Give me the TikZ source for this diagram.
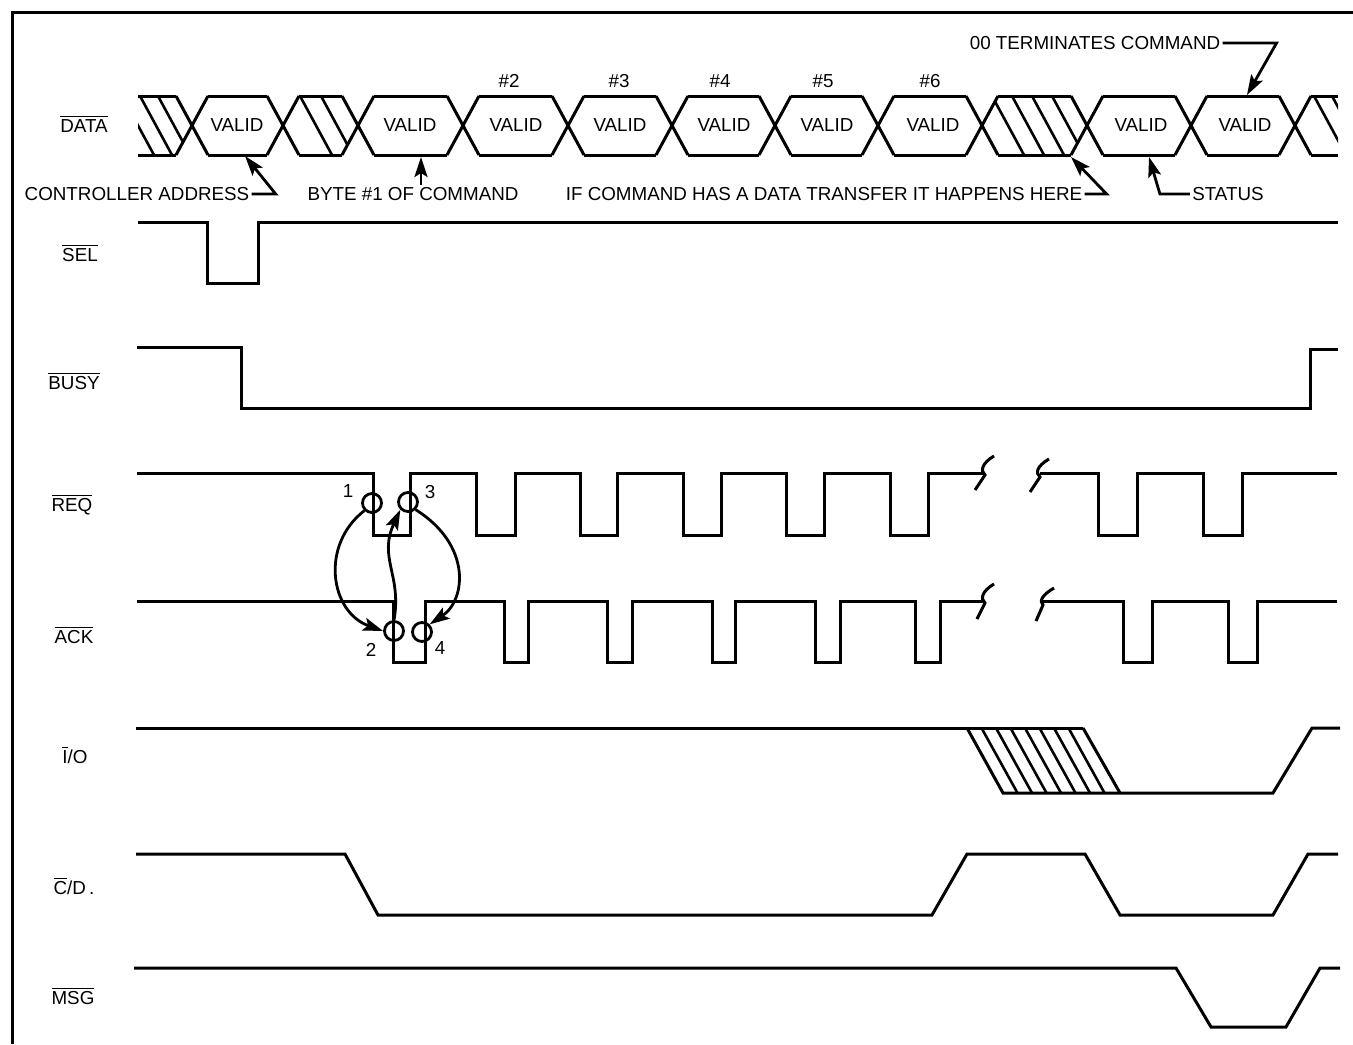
\documentclass[tikz,border=0pt]{standalone}
\usepackage{fontspec}
\setmainfont{Liberation Sans}
\usetikzlibrary{positioning, arrows.meta}
\newcommand{\ovl}[1]{$\overline{\hbox{#1}}$}

\begin{document}
\begin{tikzpicture}[x=0.5pt, y=-0.5pt,
        wave/.style={line width=1.5pt},
        hatch/.style={line width=1.3pt},
        txt/.style={font=\fontsize{9.4}{11}\selectfont, inner sep=1pt},
        pin/.style={-{Stealth[length=10pt, width=6.5pt, inset=2pt]}, line width=1.4pt},
        hs/.style={circle, draw, line width=1.4pt, minimum size=9.5pt, inner sep=0pt}]
        \useasboundingbox (0,0) rectangle (1353,1044);
        \draw [wave] (12,1044) -- (12,12) -- (1353,12);

        \node [txt] (data) at (84,124) {\ovl{DATA}};
        \node [txt] (sel) at (80,253) {\ovl{SEL}};
        \node [txt] (busy) at (74,381) {\ovl{BUSY}};
        \node [txt] (req) at (72,505) {\ovl{REQ}};
        \node [txt] (ack) at (74,635) {\ovl{ACK}};
        \node [txt] (io) at (75,755) {\ovl{I}/O};
        \node [txt] (cd) at (74,886) {\ovl{C}/D\,.};
        \node [txt] (msg) at (73,996) {\ovl{MSG}};

        \draw [wave] (138,96) -- (176,96) (138,155) -- (176,155);
        \draw [wave] (1311,96) -- (1338,96) (1311,155) -- (1338,155);
        \foreach \c in {192,283,358,463,568,672,775,878,982,1087,1191,1295}
            \draw [wave] (\c-16,96) -- (\c+16,155) (\c-16,155) -- (\c+16,96);
        \foreach \a/\b in {192/283,283/358,358/463,463/568,568/672,672/775,775/878,878/982,982/1087,1087/1191,1191/1295}
            \draw [wave] (\a+16,96) -- (\b-16,96) (\a+16,155) -- (\b-16,155);

        \begin{scope}
            \clip (138,96) -- (176,96) -- (192,125) -- (176,155) -- (138,155) -- cycle;
            \foreach \x in {122,140,158}
                \draw [hatch] (\x,96) -- (\x+32,155);
        \end{scope}
        \begin{scope}
            \clip (283,125) -- (299,96) -- (342,96) -- (358,125) -- (342,155) -- (299,155) -- cycle;
            \foreach \x in {300,321}
                \draw [hatch] (\x,96) -- (\x+32,155);
        \end{scope}
        \begin{scope}
            \clip (982,125) -- (998,96) -- (1071,96) -- (1087,125) -- (1071,155) -- (998,155) -- cycle;
            \foreach \x in {992,1012,1032,1052}
                \draw [hatch] (\x,96) -- (\x+32,155);
        \end{scope}
        \begin{scope}
            \clip (1295,125) -- (1311,96) -- (1338,96) -- (1338,155) -- (1311,155) -- cycle;
            \foreach \x in {1314,1332}
                \draw [hatch] (\x,96) -- (\x+32,155);
        \end{scope}

        \foreach \x/\n in {237/a,410/b,516/c,620/d,724/e,827/f,933/g,1141/h,1245/i}
            \node [txt] (valid\n) at (\x,125) {VALID};
        \foreach \x/\n in {509/2,619/3,720/4,823/5,930/6}
            \node [txt] (byte\n) at (\x,81) {\#\n};

        \node [txt] (ctrl) at (137,194) {CONTROLLER ADDRESS};
        \node [txt] (byte1) at (413,194) {BYTE \#1 OF COMMAND};
        \node [txt] (xfer) at (824,194) {IF COMMAND HAS A DATA TRANSFER IT HAPPENS HERE};
        \node [txt] (stat) at (1228,194) {STATUS};
        \node [txt] (term) at (1095,43) {00 TERMINATES COMMAND};
        \coordinate (ctrltip) at (245,156);
        \coordinate (b1tip) at (421,157);
        \coordinate (xfertip) at (1071,157);
        \coordinate (stattip) at (1149,157);
        \coordinate (termtip) at (1247,95);
        \draw [pin] (ctrl.east) -- ++(24,0) -- (ctrltip);
        \draw [pin] (b1tip |- byte1.north) -- (b1tip);
        \draw [pin] (xfer.east) -- ++(22,0) -- (xfertip);
        \draw [pin] (stat.west) -- ++(-30,0) -- (stattip);
        \draw [pin] (term.east) -- ++(54,0) -- (termtip);

        \draw [wave] (138,222) -| (207,283) -| (258,222) -- (1338,222);
        \draw [wave] (137,347) -| (241,408) -| (1310,349) -- (1338,349);

        \draw [wave] (137,473) -| (373,535) -| (410,473) -| (476,535) -| (515,473)
            -| (580,535) -| (617,473) -| (683,535) -| (721,473) -| (786,535)
            -| (824,473) -| (890,535) -| (928,473) -- (984,473);
        \draw [wave] (994,456) .. controls (982,463) and (980,471) .. (985,475) -- (975,490);
        \draw [wave] (1049,459) .. controls (1037,466) and (1035,473) .. (1040,477) -- (1030,492);
        \draw [wave] (1040,473) -| (1098,535) -| (1137,473) -| (1203,535) -| (1242,473) -- (1337,473);

        \draw [wave] (137,601) -| (393,662) -| (425,601) -| (504,662) -| (528,601)
            -| (607,662) -| (632,601) -| (712,662) -| (735,601) -| (815,662)
            -| (840,601) -| (915,662) -| (940,601) -- (984,601);
        \draw [wave] (994,584) .. controls (982,591) and (980,599) .. (985,603) -- (977,619);
        \draw [wave] (1054,588) .. controls (1042,595) and (1039,601) .. (1043,605) -- (1036,621);
        \draw [wave] (1042,601) -| (1123,662) -| (1152,601) -| (1228,662) -| (1257,601) -- (1337,601);

        \node [hs] (h1) at (372,503) {};
        \node [hs] (h3) at (408,502) {};
        \node [hs] (h2) at (394,631) {};
        \node [hs] (h4) at (422,632) {};
        \node [txt] (n1) at (348,491) {1};
        \node [txt] (n3) at (430,492) {3};
        \node [txt] (n2) at (371,650) {2};
        \node [txt] (n4) at (440,648) {4};
        \draw [pin] (h1.south west) .. controls (320,545) and (330,612) .. (h2.west);
        \draw [pin] (h2.north) .. controls (402,575) and (378,558) .. (h3.south west);
        \draw [pin] (h3.south east) .. controls (472,545) and (466,600) .. (h4.north east);

        \draw [wave] (136,728) -- (1083,728);
        \draw [wave] (967,728) -- (1003,793) -- (1273,793) -- (1312,728) -- (1340,728);
        \draw [wave] (1083,728) -- (1120,793);
        \foreach \i in {1,...,7}
            \draw [hatch] (967+14.5*\i,728) -- (1003+14.5*\i,793);

        \draw [wave] (136,854) -- (345,854) -- (378,915) -- (932,915) -- (967,854)
            -- (1085,854) -- (1120,915) -- (1273,915) -- (1308,854) -- (1338,854);
        \draw [wave] (134,968) -- (1176,968) -- (1211,1027) -- (1286,1027) -- (1320,968) -- (1340,968);
    \end{tikzpicture}
\end{document}
